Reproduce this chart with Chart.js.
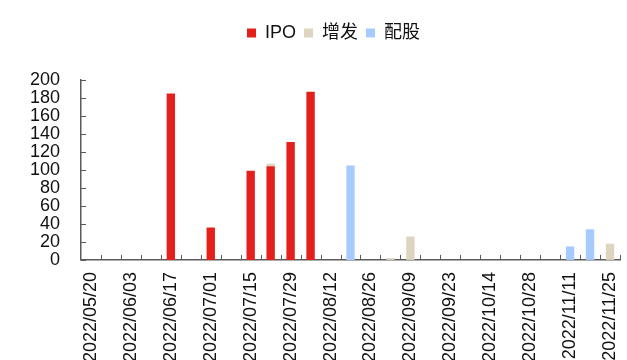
<!DOCTYPE html>
<html>
<head>
<meta charset="utf-8">
<script src="https://cdn.jsdelivr.net/npm/chart.js@4"></script>
<style>
    html, body { margin: 0; padding: 0; background: #fff; overflow: hidden; width: 627px; height: 360px; }
    #wrap { position: relative; width: 627px; height: 374px; }
</style>
</head>
<body>
<div id="wrap"><canvas id="financeChart"></canvas></div>
<script>
// 주간 데이터 (2022/10/07 주는 연휴로 없음)
const categories = [
    '2022/05/20', '2022/05/27', '2022/06/03', '2022/06/10', '2022/06/17', '2022/06/24',
    '2022/07/01', '2022/07/08', '2022/07/15', '2022/07/22', '2022/07/29', '2022/08/05',
    '2022/08/12', '2022/08/19', '2022/08/26', '2022/09/02', '2022/09/09', '2022/09/16',
    '2022/09/23', '2022/09/30', '2022/10/14', '2022/10/21', '2022/10/28', '2022/11/04',
    '2022/11/11', '2022/11/18', '2022/11/25'
];
const ipoValues     = [0, 0, 0, 0, 185, 0, 36, 0, 99, 104, 131, 187, 0, 0, 0, 0, 0, 0, 0, 0, 0, 0, 0, 0, 0, 0, 0];
const zengfaValues  = [0, 0, 0, 0, 0, 0, 0, 0, 0, 3, 0, 0, 0, 0, 0, 2, 26, 0, 0, 0, 0, 0, 0, 0, 0, 0, 18];
const peiguValues   = [0, 0, 0, 0, 0, 0, 0, 0, 0, 0, 0, 0, 0, 105, 0, 0, 0, 0, 0, 0, 0, 0, 0, 0, 15, 34, 0];
const yTickValues   = [0, 20, 40, 60, 80, 100, 120, 140, 160, 180, 200];

const colorIpo = '#E3201B';
const colorZengfa = '#DDD5C0';
const colorPeigu = '#A7CBFE';
const axisColor = '#5a5a5a';
const fontFamily = "'Liberation Sans', Arial, 'Noto Sans CJK SC', sans-serif";

// 범례 아래 여백 늘리고 살짝 오른쪽으로 이동
const legendGap = {
    id: 'legendGap',
    beforeInit(chart) {
        const legend = chart.legend;
        const origFit = legend.fit;
        legend.fit = function () {
            origFit.bind(legend)();
            this.height += 28;
        };
        const origDraw = legend.draw;
        legend.draw = function () {
            const ctx = chart.ctx;
            ctx.save();
            ctx.translate(9, 0);
            origDraw.bind(legend)();
            ctx.restore();
        };
    }
};

// 축 안쪽으로 짧은 눈금 그리기
const innerTicks = {
    id: 'innerTicks',
    afterDraw(chart) {
        const { ctx, scales: { x, y } } = chart;
        ctx.save();
        ctx.strokeStyle = axisColor;
        ctx.lineWidth = 1;
        const step = (x.right - x.left) / categories.length;
        for (let i = 1; i <= categories.length; i++) {
            const px = Math.round(x.left + step * i) + 0.5;
            ctx.beginPath();
            ctx.moveTo(px, y.bottom);
            ctx.lineTo(px, y.bottom - 5);
            ctx.stroke();
        }
        yTickValues.forEach(v => {
            const py = Math.round(y.getPixelForValue(v)) + 0.5;
            ctx.beginPath();
            ctx.moveTo(x.left, py);
            ctx.lineTo(x.left + 5, py);
            ctx.stroke();
        });
        ctx.restore();
    }
};

const barOpts = { barPercentage: 0.42, categoryPercentage: 1.0, borderWidth: 0 };

new Chart(document.getElementById('financeChart'), {
    type: 'bar',
    data: {
        labels: categories,
        datasets: [
            { label: 'IPO', data: ipoValues, backgroundColor: colorIpo, ...barOpts },
            { label: '增发', data: zengfaValues, backgroundColor: colorZengfa, ...barOpts },
            { label: '配股', data: peiguValues, backgroundColor: colorPeigu, ...barOpts }
        ]
    },
    options: {
        responsive: true,
        maintainAspectRatio: false,
        animation: false,
        layout: { padding: { left: 29, right: 7, top: 16, bottom: 0 } },
        plugins: {
            legend: {
                position: 'top',
                labels: {
                    boxWidth: 9,
                    boxHeight: 9,
                    padding: 8,
                    color: '#111',
                    font: { family: fontFamily, size: 18 }
                }
            },
            tooltip: { enabled: false }
        },
        scales: {
            x: {
                stacked: true,
                grid: { display: false, drawTicks: false },
                border: { display: true, color: axisColor, width: 1.5 },
                afterFit: axis => { axis.paddingLeft = 0; axis.paddingRight = 0; },
                ticks: {
                    autoSkip: false,
                    minRotation: 90,
                    maxRotation: 90,
                    padding: 12,
                    color: '#111',
                    font: { family: fontFamily, size: 18 },
                    callback: (val, idx) => idx % 2 === 0 ? categories[idx] : ''
                }
            },
            y: {
                stacked: true,
                min: 0,
                max: 200,
                grid: { display: false, drawTicks: false },
                border: { display: true, color: axisColor, width: 1.5 },
                afterBuildTicks: axis => { axis.ticks = yTickValues.map(v => ({ value: v })); },
                afterFit: axis => { axis.width = 52; },
                ticks: {
                    autoSkip: false,
                    padding: 21,
                    color: '#111',
                    font: { family: fontFamily, size: 18 }
                }
            }
        }
    },
    plugins: [legendGap, innerTicks]
});
</script>
</body>
</html>
